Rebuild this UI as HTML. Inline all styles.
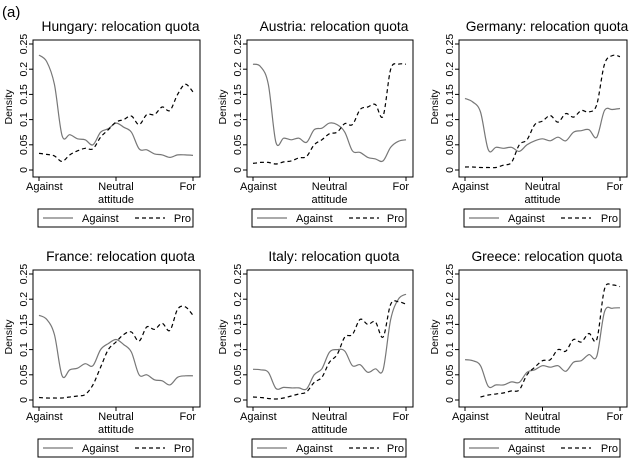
<!DOCTYPE html>
<html><head><meta charset="utf-8"><style>
body{margin:0;background:#fff;}
svg{display:block;font-family:"Liberation Sans",Arial,sans-serif;}
</style></head><body>
<svg id="chart" width="634" height="458" xmlns="http://www.w3.org/2000/svg">
<text x="2" y="17" font-size="15" fill="#000">(a)</text>
</svg>
<script>
const countries = ["Hungary","Austria","Germany","France","Italy","Greece"];
const yTicks = [0,0.05,0.1,0.15,0.2,0.25];
const yTickLabels = ["0","0.05","0.1","0.15","0.2","0.25"];
const xTickLabels = ["Against","Neutral","For"];
const againstHungary = [0.228,0.215,0.17,0.068,0.07,0.062,0.06,0.05,0.075,0.082,0.093,0.085,0.075,0.042,0.04,0.032,0.03,0.025,0.03,0.03,0.029];
const proHungary = [0.033,0.031,0.028,0.017,0.03,0.038,0.043,0.042,0.065,0.08,0.095,0.1,0.107,0.09,0.11,0.11,0.125,0.118,0.15,0.17,0.155];
const againstAustria = [0.21,0.205,0.17,0.055,0.063,0.06,0.063,0.055,0.08,0.083,0.093,0.09,0.075,0.038,0.035,0.025,0.022,0.018,0.045,0.057,0.06];
const proAustria = [0.013,0.015,0.015,0.012,0.016,0.018,0.024,0.027,0.05,0.06,0.072,0.075,0.092,0.09,0.12,0.125,0.13,0.107,0.2,0.21,0.21];
const againstGermany = [0.142,0.135,0.115,0.04,0.045,0.043,0.045,0.037,0.05,0.058,0.062,0.058,0.065,0.058,0.075,0.078,0.08,0.065,0.118,0.12,0.122];
const proGermany = [0.006,0.006,0.005,0.005,0.005,0.01,0.015,0.05,0.06,0.09,0.097,0.108,0.095,0.112,0.105,0.118,0.115,0.13,0.21,0.227,0.225];
const againstFrance = [0.168,0.16,0.13,0.048,0.06,0.063,0.072,0.068,0.1,0.112,0.12,0.11,0.095,0.05,0.05,0.04,0.038,0.03,0.045,0.048,0.048];
const proFrance = [0.005,0.004,0.004,0.004,0.006,0.008,0.011,0.03,0.065,0.1,0.115,0.13,0.135,0.117,0.145,0.14,0.152,0.138,0.18,0.185,0.168];
const againstItaly = [0.061,0.06,0.055,0.023,0.025,0.024,0.024,0.022,0.05,0.062,0.095,0.1,0.097,0.068,0.07,0.055,0.062,0.06,0.16,0.2,0.21];
const proItaly = [0.006,0.005,0.003,0.002,0.004,0.008,0.012,0.016,0.035,0.045,0.075,0.09,0.125,0.13,0.16,0.15,0.155,0.125,0.19,0.195,0.19];
const againstGreece = [0.08,0.078,0.068,0.027,0.03,0.03,0.036,0.035,0.055,0.06,0.068,0.065,0.068,0.057,0.075,0.078,0.09,0.087,0.175,0.182,0.183];
const proGreece = [null,null,0.006,0.01,0.012,0.014,0.018,0.02,0.05,0.065,0.078,0.08,0.1,0.097,0.12,0.115,0.132,0.12,0.22,0.228,0.225];
const againstSeries = [againstHungary,againstAustria,againstGermany,againstFrance,againstItaly,againstGreece];
const proSeries = [proHungary,proAustria,proGermany,proFrance,proItaly,proGreece];

const svg = document.getElementById('chart');
const NS = 'http://www.w3.org/2000/svg';
function mk(tag, attrs, parent){const e=document.createElementNS(NS,tag);for(const k in attrs)e.setAttribute(k,attrs[k]);(parent||svg).appendChild(e);return e;}
function smooth(pts){
  if(pts.length<2)return '';
  let d='M'+pts[0][0].toFixed(1)+','+pts[0][1].toFixed(1);
  for(let i=0;i<pts.length-1;i++){
    const p0=pts[Math.max(0,i-1)],p1=pts[i],p2=pts[i+1],p3=pts[Math.min(pts.length-1,i+2)];
    const c1x=p1[0]+(p2[0]-p0[0])/6,c1y=p1[1]+(p2[1]-p0[1])/6;
    const c2x=p2[0]-(p3[0]-p1[0])/6,c2y=p2[1]-(p3[1]-p1[1])/6;
    d+='C'+c1x.toFixed(1)+','+c1y.toFixed(1)+' '+c2x.toFixed(1)+','+c2y.toFixed(1)+' '+p2[0].toFixed(1)+','+p2[1].toFixed(1);
  }
  return d;
}
const lefts=[33,247,459], rights=[200,413,627];
countries.forEach((c,p)=>{
  const col=p%3,row=Math.floor(p/3),dy=row*230;
  const L=lefts[col],R=rights[col],T=40+dy,B=177+dy;
  const g=mk('g',{});
  
  
  const xA=L+6,xF=R-7;
  const xs=i=>xA+(xF-xA)*i/20;
  const ys=v=>(170+dy)-(v/0.25)*126;
  const fr=mk('rect',{x:L,y:T,width:R-L,height:B-T,fill:'none',stroke:'#000','stroke-width':1},g);
  
  
  const t=mk('text',{x:(L+R)/2+4,y:31+dy,'font-size':13.8,'text-anchor':'middle'},g);
  t.textContent=c+': relocation quota';
  
  
  yTicks.forEach((v,i)=>{
    mk('line',{x1:L-4,x2:L,y1:ys(v),y2:ys(v),stroke:'#000'},g);
    const tx=mk('text',{x:0,y:0,'font-size':10.5,'text-anchor':'middle',transform:`translate(${L-6},${ys(v)}) rotate(-90)`},g);
    tx.textContent=yTickLabels[i];
    
    
  });
  const yl=mk('text',{x:0,y:0,'font-size':10.5,'text-anchor':'middle',transform:`translate(${L-21},${107+dy}) rotate(-90)`},g);
  yl.textContent='Density';
  
  
  [0,10,20].forEach((i,k)=>{
    mk('line',{x1:xs(i),x2:xs(i),y1:B,y2:B+4,stroke:'#000'},g);
    const tx=mk('text',{x:k==0?xA-13:(k==2?xF+3:xs(i)),y:190+dy,'font-size':11,'text-anchor':k==0?'start':(k==2?'end':'middle')},g);
    tx.textContent=xTickLabels[k];
    
    
  });
  const xl=mk('text',{x:xs(10),y:203+dy,'font-size':11,'text-anchor':'middle'},g);
  xl.textContent='attitude';
  
  
  function line(arr,dash,name){
    const pts=[];arr.forEach((v,i)=>{if(v===null)return;pts.push([xs(i),ys(v)]);});
    const pth=mk('path',{d:smooth(pts),fill:'none',stroke:dash?'#000':'#777','stroke-width':1.2,'stroke-dasharray':dash?'4,3':'none','stroke-linejoin':'round'},g);
    
    
  }
  line(againstSeries[p],false,'against-line');
  line(proSeries[p],true,'pro-line');
  const lx=L+5,lr=R-7,ly=209+dy;
  const lg=mk('g',{},g);
  
  
  mk('rect',{x:lx,y:ly,width:lr-lx,height:18,fill:'#fff',stroke:'#000'},lg);
  mk('line',{x1:lx+5,x2:lx+35,y1:ly+9,y2:ly+9,stroke:'#777','stroke-width':1.2},lg);
  const la=mk('text',{x:lx+44,y:ly+13,'font-size':11},lg);
  la.textContent='Against';
  
  
  mk('line',{x1:lx+97,x2:lx+127,y1:ly+9,y2:ly+9,stroke:'#000','stroke-width':1.2,'stroke-dasharray':'4,3'},lg);
  const lp=mk('text',{x:lr-2,y:ly+13,'font-size':11,'text-anchor':'end'},lg);
  lp.textContent='Pro';
  
  
});
</script>
</body></html>
